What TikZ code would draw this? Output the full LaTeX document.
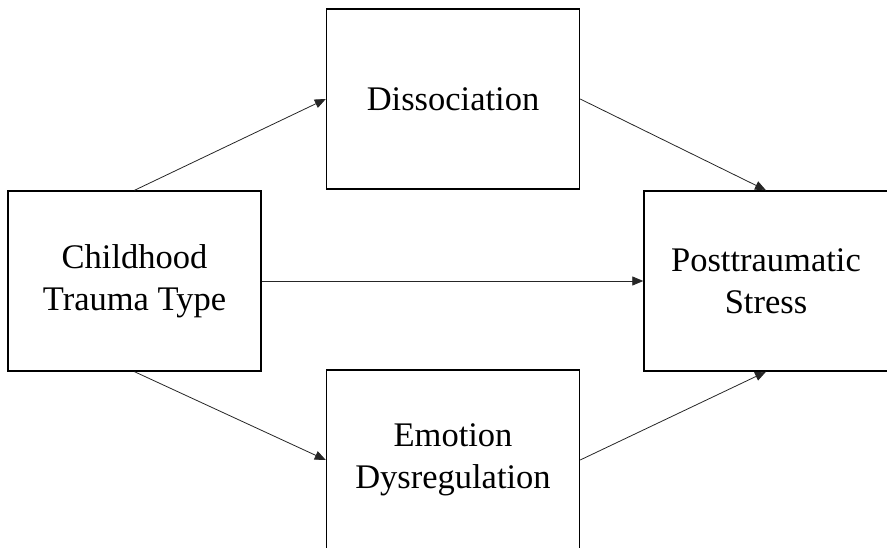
\documentclass[tikz,border=0pt]{standalone}
\usepackage{fontspec}
\setmainfont{Liberation Serif}
\usetikzlibrary{arrows.meta}
\begin{document}
\begin{tikzpicture}[x=1pt,y=-1pt,
    box/.style={
      draw,
      line width=1.4pt,
      align=center,
      inner sep=0pt,
      minimum width=253pt,
      minimum height=180pt,
      font=\fontsize{34.5}{42}\selectfont
    },
    >={Triangle[length=11pt,width=9pt]},
    link/.style={->, line width=0.8pt, draw=black!85}
  ]
  \useasboundingbox (0,0) rectangle (887,548);
  \clip (0,0) rectangle (887,548);
  \node[box] (trauma) at (134.5,281) {Childhood\\Trauma Type};
  \node[box] (dissoc) at (453,99) {Dissociation};
  \node[box] (emotion) at (453,460) {Emotion\\Dysregulation};
  \node[box,minimum width=244pt] (ptsd) at (766,281) {Posttraumatic\\Stress};
  \draw[link] (trauma.north) -- (dissoc.west);
  \draw[link] (dissoc.east) -- (ptsd.north);
  \draw[link] (trauma.east) -- (ptsd.west);
  \draw[link] (trauma.south) -- (emotion.west);
  \draw[link] (emotion.east) -- (ptsd.south);
\end{tikzpicture}
\end{document}
